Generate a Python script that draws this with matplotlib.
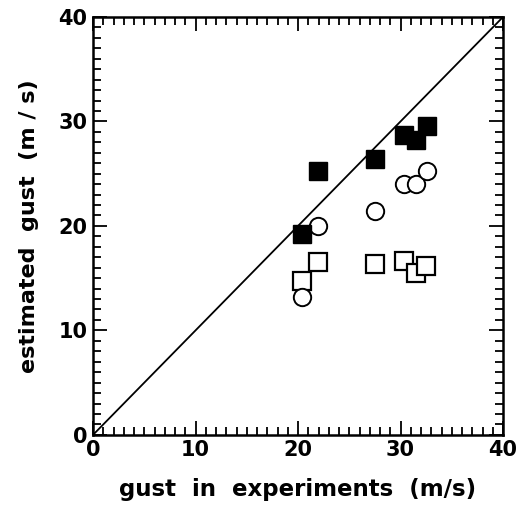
import numpy as np
import matplotlib
matplotlib.use("Agg")
import matplotlib.pyplot as plt
from matplotlib.ticker import MultipleLocator

# filled squares
x_filled = [20.4, 21.9, 27.5, 30.3, 31.5, 32.6]
y_filled = [19.2, 25.3, 26.4, 28.7, 28.2, 29.6]

# open circles
x_circle = [20.4, 21.9, 27.5, 30.3, 31.5, 32.6]
y_circle = [13.2, 20.0, 21.4, 24.0, 24.0, 25.3]

# open squares
x_square = [20.4, 21.9, 27.5, 30.3, 31.5, 32.5]
y_square = [14.7, 16.5, 16.4, 16.6, 15.5, 16.2]

line_ends = [0, 40]

fig = plt.figure(figsize=(5.17, 5.14), dpi=100)
ax = fig.add_axes([0.180, 0.154, 0.793, 0.813])

ax.plot(line_ends, line_ends, 'k-', lw=1.3)
ax.plot(x_square, y_square, 's', ms=12.5, mfc='white', mec='black', mew=1.6)
ax.plot(x_circle, y_circle, 'o', ms=12.5, mfc='white', mec='black', mew=1.4)
ax.plot(x_filled, y_filled, 's', ms=12.5, mfc='black', mec='black')

ax.set_xlim(0, 40)
ax.set_ylim(0, 40)
ax.xaxis.set_major_locator(MultipleLocator(10))
ax.yaxis.set_major_locator(MultipleLocator(10))
ax.xaxis.set_minor_locator(MultipleLocator(1))
ax.yaxis.set_minor_locator(MultipleLocator(1))
ax.tick_params(which='both', direction='in', top=True, right=True, width=1.3)
ax.tick_params(which='major', length=10, pad=4)
ax.tick_params(which='minor', length=6)
for s in ax.spines.values():
    s.set_linewidth(1.8)

for lab in ax.get_xticklabels() + ax.get_yticklabels():
    lab.set_fontsize(15)
    lab.set_fontweight('bold')

ax.set_xlabel('gust  in  experiments  (m/s)', fontsize=16.5, fontweight='bold', labelpad=13)
ax.set_ylabel('estimated  gust  (m / s)', fontsize=16, fontweight='bold', labelpad=14)

fig.savefig('out.png', dpi=100)
